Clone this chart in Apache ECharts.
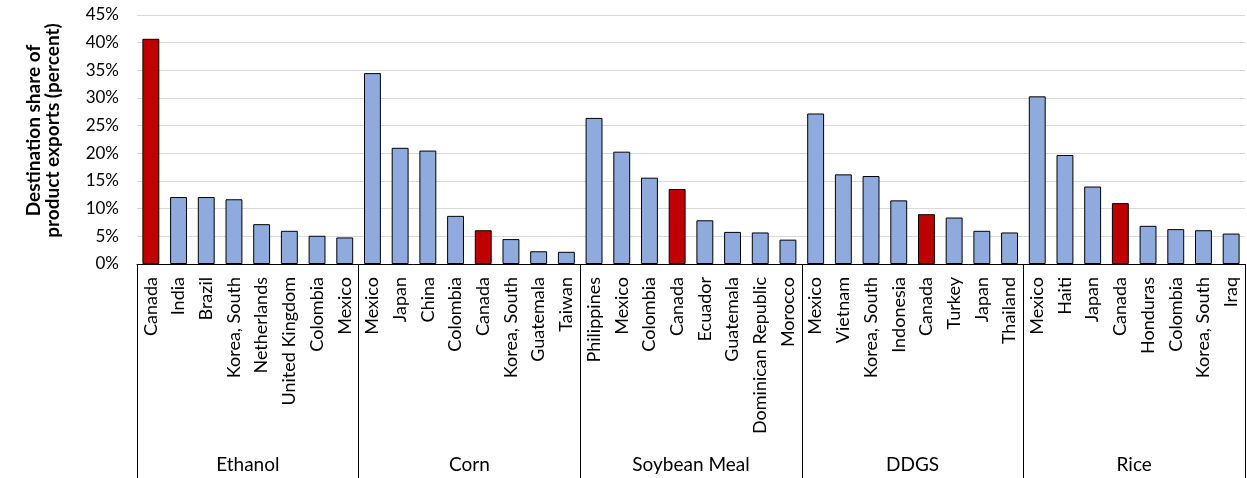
<!DOCTYPE html>
<html>
<head>
<meta charset="utf-8">
<script src="https://cdn.jsdelivr.net/npm/echarts@6/dist/echarts.min.js"></script>
<style>
html,body{margin:0;padding:0;background:#fff;}
#chart{width:1247px;height:478px;}
</style>
</head>
<body>
<div id="chart"></div>
<script>
const groups = ['Ethanol', 'Corn', 'Soybean Meal', 'DDGS', 'Rice'];

const ethanolCountries = ['Canada', 'India', 'Brazil', 'Korea, South', 'Netherlands', 'United Kingdom', 'Colombia', 'Mexico'];
const ethanolValues = [40.7, 12.1, 12.1, 11.7, 7.2, 6.0, 5.1, 4.8];

const cornCountries = ['Mexico', 'Japan', 'China', 'Colombia', 'Canada', 'Korea, South', 'Guatemala', 'Taiwan'];
const cornValues = [34.5, 21.0, 20.5, 8.7, 6.1, 4.5, 2.3, 2.2];

const soyCountries = ['Philippines', 'Mexico', 'Colombia', 'Canada', 'Ecuador', 'Guatemala', 'Dominican Republic', 'Morocco'];
const soyValues = [26.4, 20.3, 15.6, 13.55, 7.9, 5.8, 5.7, 4.4];

const ddgsCountries = ['Mexico', 'Vietnam', 'Korea, South', 'Indonesia', 'Canada', 'Turkey', 'Japan', 'Thailand'];
const ddgsValues = [27.2, 16.2, 15.9, 11.5, 9.0, 8.4, 6.0, 5.7];

const riceCountries = ['Mexico', 'Haiti', 'Japan', 'Canada', 'Honduras', 'Colombia', 'Korea, South', 'Iraq'];
const riceValues = [30.3, 19.7, 14.0, 11.0, 6.9, 6.3, 6.1, 5.5];

const yTicks = [0, 5, 10, 15, 20, 25, 30, 35, 40, 45];

const countryLists = [ethanolCountries, cornCountries, soyCountries, ddgsCountries, riceCountries];
const valueLists = [ethanolValues, cornValues, soyValues, ddgsValues, riceValues];

const categories = [];
const barData = [];
countryLists.forEach((list, gi) => {
  list.forEach((name, i) => {
    categories.push(name);
    barData.push({
      value: valueLists[gi][i],
      itemStyle: { color: name === 'Canada' ? '#C00000' : '#8FAADC' }
    });
  });
});

const FONT = 'Lato';
const chart = echarts.init(document.getElementById('chart'), null, { renderer: 'canvas' });
chart.setOption({
  animation: false,
  backgroundColor: '#fff',
  grid: { left: 137, right: 2, top: 15, bottom: 214, containLabel: false },
  xAxis: [
    {
      type: 'category',
      data: categories,
      boundaryGap: true,
      axisLine: { show: true, lineStyle: { color: '#000', width: 1 } },
      axisTick: { show: false },
      axisLabel: {
        interval: 0, rotate: 90, margin: 13,
        color: '#000', fontFamily: FONT, fontSize: 18
      },
      splitLine: { show: false }
    },
    {
      type: 'category',
      data: groups,
      position: 'bottom',
      boundaryGap: true,
      axisLine: { show: false },
      axisTick: { show: true, interval: 0, length: 214, lineStyle: { color: '#000', width: 1 } },
      axisLabel: {
        interval: 0, margin: 191,
        color: '#000', fontFamily: FONT, fontSize: 19
      },
      splitLine: { show: false }
    }
  ],
  yAxis: {
    type: 'value',
    min: yTicks[0],
    max: yTicks[yTicks.length - 1],
    interval: 5,
    axisLine: { show: false },
    axisTick: { show: false },
    axisLabel: {
      formatter: '{value}%', margin: 18,
      color: '#000', fontFamily: FONT, fontSize: 17
    },
    splitLine: { show: true, lineStyle: { color: '#D9D9D9', width: 1 } },
    name: 'Destination share of\nproduct exports (percent)',
    nameLocation: 'middle',
    nameRotate: 90,
    nameGap: 75,
    nameTextStyle: {
      color: '#000', fontFamily: FONT, fontSize: 19, fontWeight: 'bold',
      lineHeight: 19, padding: [0, 0, 0, 18]
    }
  },
  series: [
    {
      type: 'bar',
      xAxisIndex: 0,
      data: barData,
      barWidth: '61%',
      itemStyle: { borderColor: '#000', borderWidth: 1 }
    }
  ]
});
</script>
</body>
</html>
